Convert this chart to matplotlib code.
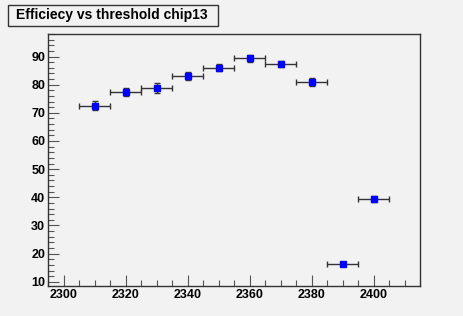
import numpy as np
import matplotlib
matplotlib.use("Agg")
import matplotlib.pyplot as plt
from matplotlib.ticker import MultipleLocator
from matplotlib.patches import Rectangle

# Data
thresholds = [2310, 2320, 2330, 2340, 2350, 2360, 2370, 2380, 2390, 2400]
efficiency = [72.5, 77.4, 78.9, 83.0, 86.0, 89.4, 87.3, 81.0, 16.2, 39.3]
eff_err = [1.6, 1.5, 1.7, 1.4, 1.3, 1.2, 1.0, 1.3, 0.5, 1.0]
thr_err = [5] * len(thresholds)
title = "Efficiecy vs threshold chip13"

plt.rcParams['font.family'] = ['Liberation Sans', 'DejaVu Sans']
bg = '#f2f2f2'

fig = plt.figure(figsize=(4.63, 3.16), dpi=100, facecolor=bg)
W, H = 463, 316
ax = fig.add_axes([48 / W, 1 - 286 / H, (420 - 48) / W, (286 - 34) / H])
ax.set_facecolor(bg)

ax.errorbar(thresholds, efficiency, xerr=thr_err, yerr=eff_err, fmt='s',
            color='#0000ff', markersize=5, ecolor='#333333', elinewidth=1,
            capsize=2, capthick=1)

ax.set_xlim(2295, 2415)
ax.set_ylim(8.5, 98)
ax.xaxis.set_major_locator(MultipleLocator(20))
ax.xaxis.set_minor_locator(MultipleLocator(5))
ax.yaxis.set_major_locator(MultipleLocator(10))
ax.yaxis.set_minor_locator(MultipleLocator(2))
ax.tick_params(which='both', direction='in', top=False, right=False,
               color='#555555', width=0.8)
ax.tick_params(which='major', length=8, labelsize=9, pad=2)
ax.tick_params(which='minor', length=4)
for lab in ax.get_xticklabels() + ax.get_yticklabels():
    lab.set_fontweight('bold')
for s in ax.spines.values():
    s.set_color('#333333')
    s.set_linewidth(1)

# title box
fig.patches.append(Rectangle((7.5 / W, 1 - 26 / H), (218 - 7.5) / W, 21 / H,
                             transform=fig.transFigure, facecolor=bg,
                             edgecolor='#333333', linewidth=1))
fig.text(112 / W, 1 - 14.5 / H, title, ha='center', va='center',
         fontsize=10, fontweight='bold')

fig.savefig("out.png", dpi=100, facecolor=bg)
